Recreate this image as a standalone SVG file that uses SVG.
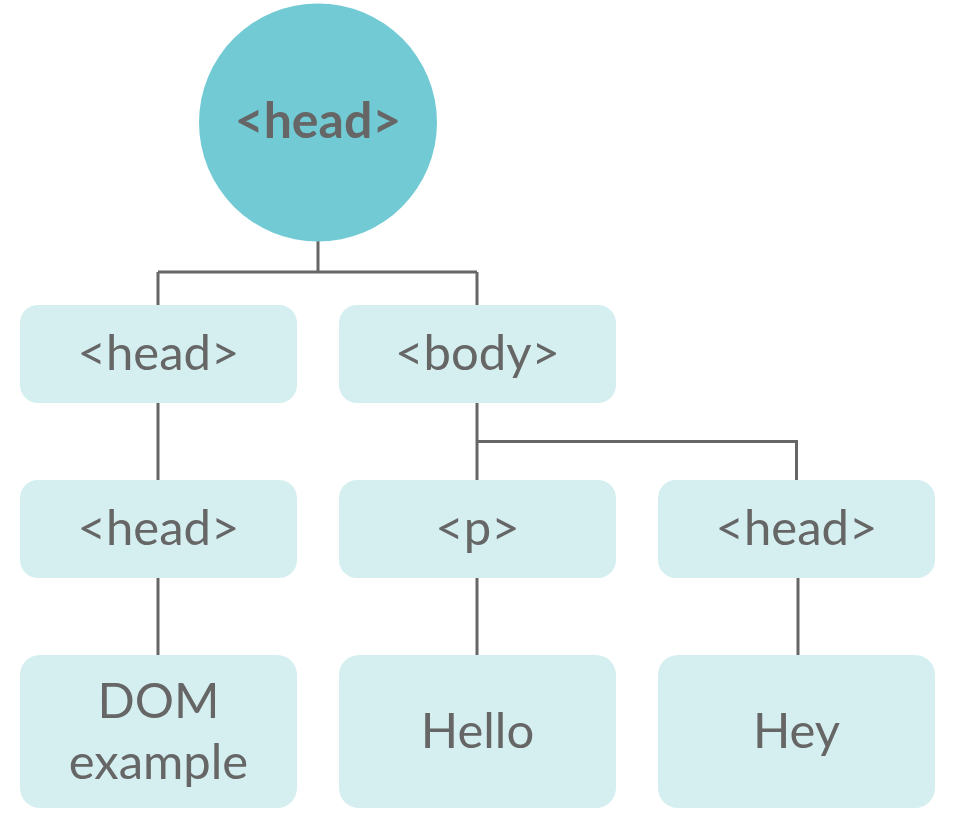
<svg xmlns="http://www.w3.org/2000/svg" width="957" height="836" viewBox="0 0 957 836">
<style>
.box{fill:#d5eff0}
.t{font-family:Lato,"Open Sans",sans-serif;font-size:49px;fill:#666;text-anchor:middle}
.b{font-weight:bold;font-size:50px}
.c{stroke:#666;stroke-width:3;fill:none}
</style>
<rect width="957" height="836" fill="#fff"/>
<g id="connectors" class="c">
<path d="M318,241V272M158,272H477M158,272V305M477,272V305"/>
<path d="M158,403V480M158,578V655"/>
<path d="M477,403V441.5H796.5V480M477,441.5V480"/>
<path d="M477,578V655M798,578V655"/>
</g>
<g id="root"><circle cx="318" cy="122.5" r="119" fill="#72cbd4"/><text class="t b" x="318" y="138">&lt;head&gt;</text></g>
<g id="head1"><rect class="box" x="20" y="305" width="277" height="98" rx="18"/><text class="t" x="158.5" y="370">&lt;head&gt;</text></g>
<g id="body"><rect class="box" x="339" y="305" width="277" height="98" rx="18"/><text class="t" x="477.5" y="370">&lt;body&gt;</text></g>
<g id="head2"><rect class="box" x="20" y="480" width="277" height="98" rx="18"/><text class="t" x="158.5" y="545">&lt;head&gt;</text></g>
<g id="p"><rect class="box" x="339" y="480" width="277" height="98" rx="18"/><text class="t" x="477.5" y="545">&lt;p&gt;</text></g>
<g id="head3"><rect class="box" x="658" y="480" width="277" height="98" rx="18"/><text class="t" x="796.5" y="545">&lt;head&gt;</text></g>
<g id="dom"><rect class="box" x="20" y="655" width="277" height="153" rx="20"/><text class="t" x="158.5" y="718">DOM</text><text class="t" x="158.5" y="779">example</text></g>
<g id="hello"><rect class="box" x="339" y="655" width="277" height="153" rx="20"/><text class="t" x="477.5" y="748">Hello</text></g>
<g id="hey"><rect class="box" x="658" y="655" width="277" height="153" rx="20"/><text class="t" x="796.5" y="748">Hey</text></g>
</svg>
